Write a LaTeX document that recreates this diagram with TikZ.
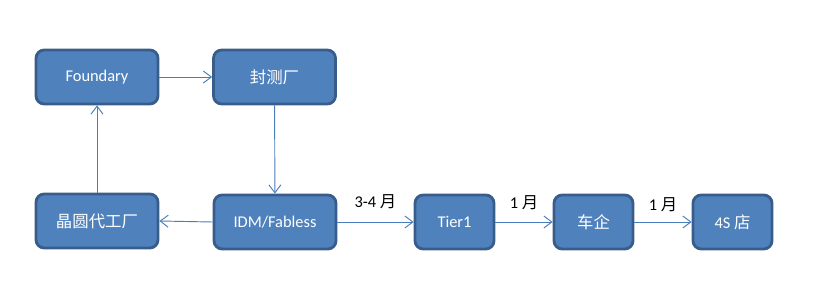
\documentclass[tikz,border=0pt]{standalone}
\usepackage{fontspec}
\setmainfont{Carlito}
\newfontfamily\cjk{Noto Sans CJK SC}
\usetikzlibrary{arrows.meta}
\definecolor{boxfill}{HTML}{4F81BD}
\definecolor{boxline}{HTML}{385D8A}
\definecolor{linkline}{HTML}{4A7EBB}
\tikzset{
  stagebox/.style={draw=boxline, fill=boxfill, line width=2.4pt, rounded corners=7pt,
    text=white, font=\fontsize{14}{17}\selectfont, minimum width=3.66cm, minimum height=1.62cm},
  smallbox/.style={stagebox, minimum width=2.37cm},
  link/.style={draw=linkline, line width=0.8pt, -{Straight Barb[length=2.4mm,width=3.6mm]}},
  delay/.style={font=\fontsize{14}{17}\selectfont, text=black, inner sep=1pt, anchor=south}
}
\begin{document}
\begin{tikzpicture}[x=0.03cm, y=-0.03cm]
  \useasboundingbox (0,0) rectangle (814,302);
  \node[stagebox] (foundary) at (97,77) {Foundary};
  \node[stagebox] (fengce) at (274.5,77) {\cjk 封测厂};
  \node[stagebox] (jingyuan) at (97,221) {\cjk 晶圆代工厂};
  \node[stagebox] (idm) at (275,222) {IDM/Fabless};
  \node[smallbox] (tier) at (454.5,222) {Tier1};
  \node[smallbox] (cheqi) at (593.5,222) {\cjk 车企};
  \node[smallbox] (sidian) at (732.5,222) {4S {\cjk 店}};
  % links
  \draw[link] (foundary.east) -- (fengce.west);
  \draw[link] (fengce) -- (idm);
  \draw[link] (jingyuan) -- (foundary);
  \draw[link] (idm.west) -- (jingyuan.east);
  \draw[link] (idm.east) -- node[delay, yshift=0.36cm] {3-4 {\cjk 月}} (tier.west);
  \draw[link] (tier.east) -- node[delay, yshift=0.33cm] {1 {\cjk 月}} (cheqi.west);
  \draw[link] (cheqi.east) -- node[delay, yshift=0.27cm] {1 {\cjk 月}} (sidian.west);
\end{tikzpicture}
\end{document}
